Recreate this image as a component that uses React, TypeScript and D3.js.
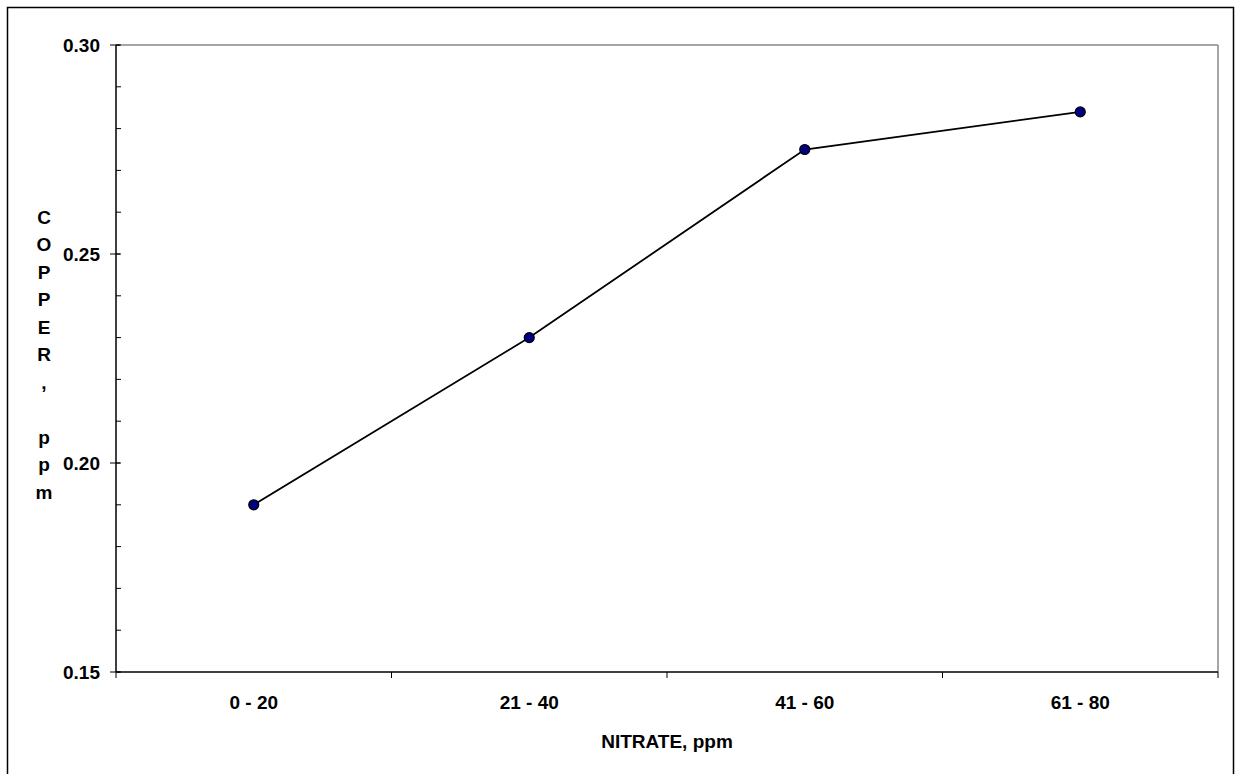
import React from "react";
import * as d3 from "d3";

const categories: string[] = ["0 - 20", "21 - 40", "41 - 60", "61 - 80"];
const copper: number[] = [0.19, 0.23, 0.275, 0.284];
const yMajorTicks: number[] = [0.15, 0.2, 0.25, 0.3];
const yTitleChars: string[] = ["C", "O", "P", "P", "E", "R", ",", "", "p", "p", "m"];
const xTitle = "NITRATE, ppm";

export default function App() {
  const W = 1235, H = 774;
  const left = 116, right = 1218, top = 45, bottom = 672;
  const x = d3.scaleBand<string>().domain(categories).range([left, right]).padding(0);
  const y = d3.scaleLinear().domain([0.15, 0.3]).range([bottom, top]);
  const minorTicks = d3.range(15, 31).map((v) => v / 100);
  const line = d3
    .line<number>()
    .x((_, i) => (x(categories[i]) as number) + x.bandwidth() / 2)
    .y((d) => y(d));
  const boundaries = [...categories.map((c) => x(c) as number), right];
  const font = "Arial, 'Liberation Sans', sans-serif";

  return (
    <svg width={W} height={H} style={{ position: "absolute", left: 0, top: 0, background: "#fff" }} fontFamily={font}>
      <rect x={0} y={0} width={W} height={H} fill="#fff" />
      <rect x={7.5} y={7.5} width={1226} height={820} fill="none" stroke="#000" strokeWidth={1.5} />
      {/* plot frame (top & right grey) */}
      <line x1={left} y1={top} x2={right} y2={top} stroke="#888" strokeWidth={1.5} />
      <line x1={right} y1={top} x2={right} y2={bottom} stroke="#888" strokeWidth={1.5} />
      {/* y axis */}
      <line x1={left} y1={top} x2={left} y2={bottom} stroke="#000" strokeWidth={1.5} />
      {minorTicks.map((t, i) => (
        <line key={"m" + i} x1={left} x2={left + 5} y1={y(t)} y2={y(t)} stroke="#000" strokeWidth={1} />
      ))}
      {yMajorTicks.map((t, i) => (
        <g key={"M" + i}>
          <line x1={left - 6} x2={left + 4} y1={y(t)} y2={y(t)} stroke="#000" strokeWidth={1} />
          <text x={100} y={y(t)} dy="0.35em" textAnchor="end" fontSize={19} fontWeight="bold">
            {t.toFixed(2)}
          </text>
        </g>
      ))}
      {/* x axis */}
      <line x1={left} y1={bottom} x2={right} y2={bottom} stroke="#000" strokeWidth={1.5} />
      {boundaries.map((b, i) => (
        <line key={"b" + i} x1={b} x2={b} y1={bottom} y2={bottom + 6} stroke="#000" strokeWidth={1} />
      ))}
      {categories.map((c) => (
        <text key={c} x={(x(c) as number) + x.bandwidth() / 2} y={702} dy="0.35em" textAnchor="middle" fontSize={19} fontWeight="bold">
          {c}
        </text>
      ))}
      <text x={(left + right) / 2} y={741} dy="0.35em" textAnchor="middle" fontSize={19} fontWeight="bold">
        {xTitle}
      </text>
      {yTitleChars.map((ch, i) => (
        <text key={"t" + i} x={44} y={217 + i * 27.5} dy="0.35em" textAnchor="middle" fontSize={19} fontWeight="bold">
          {ch}
        </text>
      ))}
      {/* series */}
      <path d={line(copper) || ""} fill="none" stroke="#000" strokeWidth={1.8} />
      {copper.map((v, i) => (
        <circle key={"p" + i} cx={(x(categories[i]) as number) + x.bandwidth() / 2} cy={y(v)} r={5} fill="#000080" stroke="#000" strokeWidth={1.2} />
      ))}
    </svg>
  );
}
